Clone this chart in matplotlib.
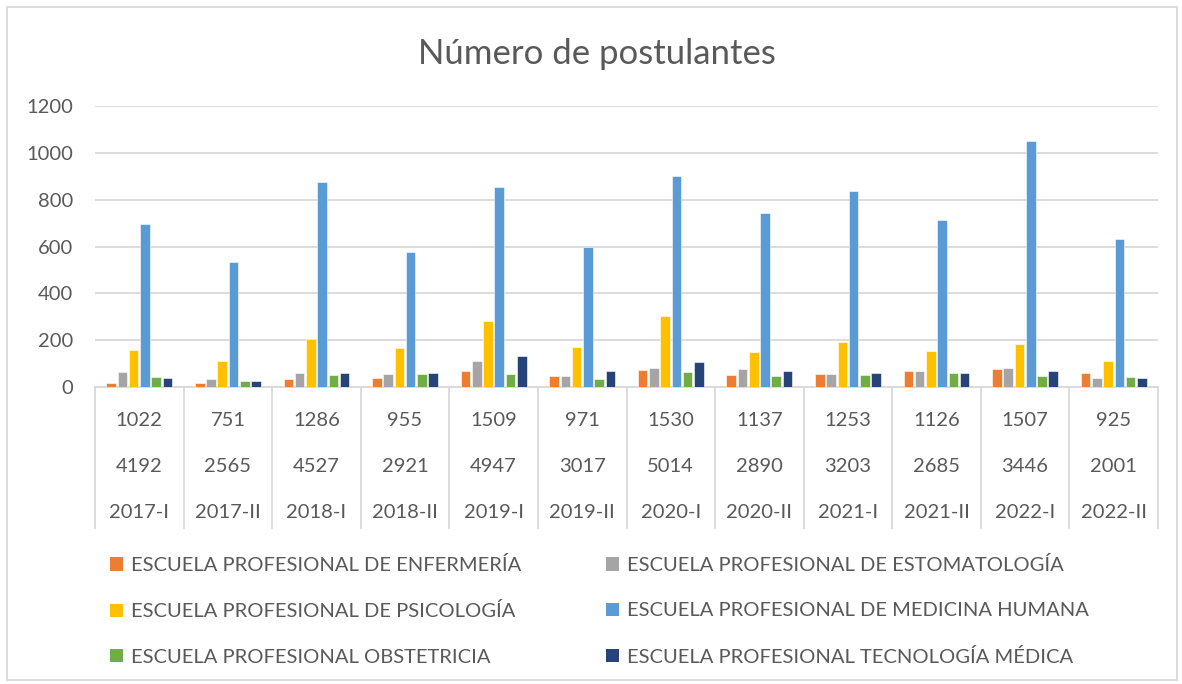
import numpy as np
import matplotlib
matplotlib.use("Agg")
import matplotlib.pyplot as plt
from matplotlib.patches import Rectangle, Patch

plt.rcParams['font.family'] = ['Lato', 'DejaVu Sans']

# datos
periodos = ['2017-I', '2017-II', '2018-I', '2018-II', '2019-I', '2019-II',
            '2020-I', '2020-II', '2021-I', '2021-II', '2022-I', '2022-II']
fila_total = [1022, 751, 1286, 955, 1509, 971, 1530, 1137, 1253, 1126, 1507, 925]
fila_dos = [4192, 2565, 4527, 2921, 4947, 3017, 5014, 2890, 3203, 2685, 3446, 2001]

escuelas = ['ESCUELA PROFESIONAL DE ENFERMERÍA',
            'ESCUELA PROFESIONAL DE ESTOMATOLOGÍA',
            'ESCUELA PROFESIONAL DE PSICOLOGÍA',
            'ESCUELA PROFESIONAL DE MEDICINA HUMANA',
            'ESCUELA PROFESIONAL OBSTETRICIA',
            'ESCUELA PROFESIONAL TECNOLOGÍA MÉDICA']

enfermeria = [17, 17, 33, 39, 70, 46, 72, 51, 55, 68, 77, 59]
estomatologia = [65, 33, 61, 56, 112, 46, 81, 77, 55, 68, 81, 38]
psicologia = [160, 109, 207, 165, 283, 170, 304, 151, 194, 155, 182, 112]
medicina = [694, 534, 874, 576, 854, 598, 901, 742, 836, 715, 1049, 632]
obstetricia = [42, 27, 51, 55, 55, 36, 64, 46, 51, 59, 46, 42]
tecnologia = [38, 25, 59, 61, 133, 70, 107, 68, 59, 59, 68, 38]

series = [enfermeria, estomatologia, psicologia, medicina, obstetricia, tecnologia]
colores = ['#ED7D31', '#A5A5A5', '#FFC000', '#5B9BD5', '#70AD47', '#264478']

W, H = 1182, 684
fig = plt.figure(figsize=(W / 100, H / 100), dpi=100)
ax = fig.add_axes([95 / W, 1 - 387 / H, (1158 - 95) / W, (387 - 106) / H])

x = np.arange(len(periodos))
paso = 0.127
ancho = 0.108
for i, (vals, c) in enumerate(zip(series, colores)):
    ax.bar(x + (i - 2.5) * paso, vals, ancho, color=c, edgecolor='white',
           linewidth=0.4, zorder=3)

ax.set_xlim(-0.5, len(periodos) - 0.5)
ax.set_ylim(0, 1200)
ax.set_yticks(range(0, 1201, 200))
ax.grid(axis='y', color='#D9D9D9', linewidth=1.3, zorder=0)
for s in ['top', 'right', 'left']:
    ax.spines[s].set_visible(False)
ax.spines['bottom'].set_color('#D9D9D9')
ax.spines['bottom'].set_linewidth(1.3)
ax.set_xticks([])
ax.tick_params(axis='y', length=0, pad=16, labelsize=14.5, labelcolor='#595959')

# tabla de datos bajo el eje
tr = ax.get_xaxis_transform()
alto = 281
for k in range(len(periodos) + 1):
    ax.plot([k - 0.5, k - 0.5], [0, -141 / alto], transform=tr, color='#D9D9D9',
            linewidth=1.3, clip_on=False)
for k in range(len(periodos)):
    ax.text(k, -33 / alto, str(fila_total[k]), transform=tr, ha='center', va='center',
            fontsize=14.5, color='#595959')
    ax.text(k, -79 / alto, str(fila_dos[k]), transform=tr, ha='center', va='center',
            fontsize=14.5, color='#595959')
    ax.text(k, -126 / alto, periodos[k], transform=tr, ha='center', va='center',
            fontsize=14.5, color='#595959')

fig.text(597 / W, 1 - 54 / H, 'Número de postulantes', ha='center', va='center',
         fontsize=25, color='#595959')

# leyenda en dos columnas, orden por filas
orden = [0, 2, 4, 1, 3, 5]
handles = [Patch(facecolor=colores[i], edgecolor='none') for i in orden]
labels = [escuelas[i] for i in orden]
leg = fig.legend(handles, labels, ncol=2, loc='upper left',
                 bbox_to_anchor=(92 / W, 1 - 538 / H), frameon=False,
                 fontsize=14.5, labelcolor='#595959', handlelength=0.65,
                 handleheight=0.65, handletextpad=0.4, labelspacing=1.4,
                 columnspacing=4.2)

fig.patches.append(Rectangle((7 / W, 4 / H), 1170 / W, 673 / H, transform=fig.transFigure,
                             fill=False, edgecolor='#D9D9D9', linewidth=1.3))

fig.savefig('out.png', dpi=100, facecolor='white')
